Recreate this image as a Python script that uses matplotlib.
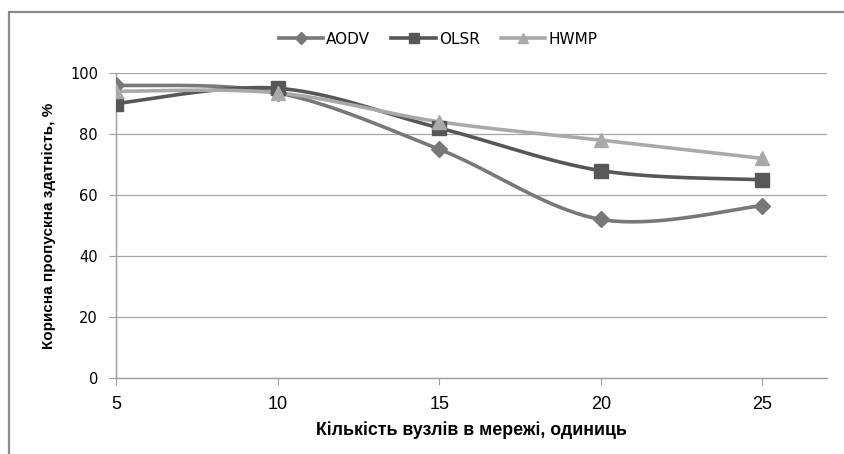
import numpy as np
import matplotlib
matplotlib.use("Agg")
import matplotlib.pyplot as plt
from matplotlib.lines import Line2D
from matplotlib.patches import Rectangle

nodes = [5, 10, 15, 20, 25]
aodv = [96, 93.5, 75, 52, 56.5]
olsr = [90, 95, 82, 68, 65]
hwmp = [94, 93.5, 84, 78, 72]
series_names = ["AODV", "OLSR", "HWMP"]
yticks = [0, 20, 40, 60, 80, 100]

colors = ["#787878", "#575757", "#a9a9a9"]
markers = ["D", "s", "^"]
msizes = [8.5, 9.5, 10.5]


def smooth(xs, ys, n=40):
    # Catmull-Rom style bezier through the points, like Excel's smoothed line
    p = np.column_stack([xs, ys]).astype(float)
    p = np.vstack([p[0], p, p[-1]])
    out = []
    for i in range(1, len(p) - 2):
        p0, p1, p2, p3 = p[i - 1], p[i], p[i + 1], p[i + 2]
        c1 = p1 + (p2 - p0) / 6.0
        c2 = p2 - (p3 - p1) / 6.0
        t = np.linspace(0, 1, n)[:, None]
        b = ((1 - t) ** 3) * p1 + 3 * ((1 - t) ** 2) * t * c1 + 3 * (1 - t) * t ** 2 * c2 + t ** 3 * p2
        out.append(b)
    b = np.vstack(out)
    return b[:, 0], b[:, 1]


fig = plt.figure(figsize=(8.44, 4.54), dpi=100)
ax = fig.add_axes([116 / 844, 1 - 378 / 454, (827 - 116) / 844, (378 - 73) / 454])

# outer frame of the chart (cut off at right and bottom)
fig.patches.append(Rectangle((9 / 844, -0.2), 1.2, 1.2 - 12 / 454, transform=fig.transFigure,
                             fill=False, edgecolor="#8c8c8c", linewidth=1.6))

handles = []
for vals, name, c, m, ms in zip([aodv, olsr, hwmp], series_names, colors, markers, msizes):
    sx, sy = smooth(nodes, vals)
    ax.plot(sx, sy, color=c, linewidth=2.6, zorder=3)
    ax.plot(nodes, vals, linestyle="none", marker=m, markersize=ms, color=c, zorder=4)
    handles.append(Line2D([], [], color=c, linewidth=2.6, marker=m, markersize=ms * 0.75, label=name))

ax.set_xlim(5, 27)
ax.set_ylim(0, 100)
ax.set_yticks(yticks)
ax.set_xticks(nodes)
ax.grid(axis="y", color="#a6a6a6", linewidth=0.9)
ax.set_axisbelow(True)
for s in ["top", "right"]:
    ax.spines[s].set_visible(False)
for s in ["left", "bottom"]:
    ax.spines[s].set_color("#a0a0a0")
    ax.spines[s].set_linewidth(1.0)
ax.tick_params(axis="both", direction="out", length=5, color="#a0a0a0")
ax.tick_params(axis="y", labelsize=10.5, pad=8)
ax.tick_params(axis="x", labelsize=13, pad=8)
for lab in ax.get_xticklabels():
    lab.set_family(["Liberation Sans", "DejaVu Sans"])

ax.set_ylabel("Корисна пропускна здатність, %", fontsize=11, fontweight="bold",
              family=["Liberation Sans", "DejaVu Sans"], labelpad=10)
ax.set_xlabel("Кількість вузлів в мережі, одиниць", fontsize=12.8, fontweight="bold",
              family=["Liberation Sans", "DejaVu Sans"], labelpad=6)

fig.legend(handles=handles, loc="center", bbox_to_anchor=(438 / 844, 1 - 39 / 454), ncol=3,
           frameon=False, handlelength=2.9, handletextpad=0.2, columnspacing=1.4,
           prop={"size": 11})

fig.savefig("out.png", dpi=100)
